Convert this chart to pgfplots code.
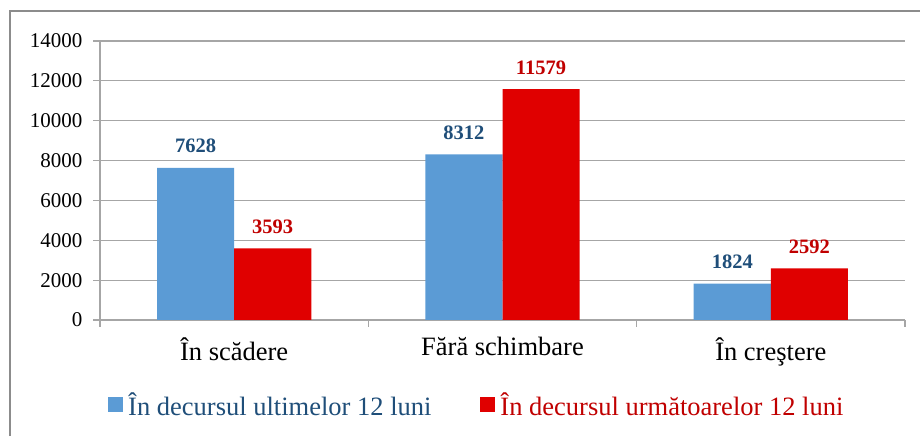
\documentclass[border=0pt]{standalone}
\usepackage{pgfplots}
\pgfplotsset{compat=1.18}
\usepackage{fontspec}
\setmainfont{Liberation Serif}
\newfontfamily\tnr{Liberation Serif}
\definecolor{barblue}{HTML}{5B9BD5}
\definecolor{barred}{HTML}{E00000}
\definecolor{lblblue}{HTML}{1F4E79}
\definecolor{lblred}{HTML}{C00000}
\definecolor{gridgray}{HTML}{A6A6A6}
\definecolor{framegray}{HTML}{8C8C8C}
\begin{document}
\begin{tikzpicture}[x=1pt,y=1pt]
\useasboundingbox (0,0) rectangle (920,436);
\draw[framegray,line width=1.5pt] (10,0) -- (10,425) -- (921,425);
\begin{axis}[
  at={(100pt,116pt)}, anchor=south west,
  scale only axis, width=805pt, height=279pt,
  ybar=0pt, bar width=0.2873,
  xmin=-0.5, xmax=2.5, ymin=0, ymax=14000,
  xtick={0,1,2},
  xticklabels={În scădere, Fără schimbare, În creştere},
  minor xtick={-0.5,0.5,1.5,2.5},
  ytick={0,2000,...,14000},
  scaled y ticks=false,
  /pgf/number format/.cd, 1000 sep={}, assume math mode=true, /pgfplots/.cd,
  yticklabel={\tnr\pgfmathprintnumber{\tick}},
  axis x line*=bottom, axis y line*=left,
  axis line style={gridgray, line width=1.2pt},
  ymajorgrids, grid style={gridgray, line width=1.2pt},
  tick align=outside,
  major tick length=7pt, minor tick length=7pt,
  xtick style={draw=none},
  minor x tick style={draw=gridgray, line width=1.2pt},
  ytick style={gridgray, line width=1.2pt},
  yticklabel style={font=\tnr\fontsize{21}{24}\selectfont, xshift=-7pt},
  xticklabel style={font=\tnr\fontsize{26.5}{30}\selectfont, yshift=-7pt},
  nodes near coords={\tnr\bfseries\pgfmathprintnumber{\pgfplotspointmeta}},
  nodes near coords style={font=\tnr\fontsize{20.5}{24}\selectfont\bfseries, inner sep=0pt, anchor=base, yshift=15pt},
  legend columns=2,
  legend style={at={(rel axis cs:0.01,-0.305)}, anchor=west, draw=none, fill=none,
    font=\tnr\fontsize{26.5}{30}\selectfont, inner sep=0pt,
    /tikz/every even column/.append style={column sep=47pt}},
  legend image code/.code={\fill[#1] (0pt,-7pt) rectangle (15pt,8pt);},
  clip=false,
]
\addplot[fill=barblue, draw=none, nodes near coords style={text=lblblue}] coordinates {(0,7628) (1,8312) (2,1824)};
\addlegendentry{\hspace{3pt}\textcolor{lblblue}{\tnr În decursul ultimelor 12 luni}}
\addplot[fill=barred, draw=none, nodes near coords style={text=lblred}] coordinates {(0,3593) (1,11579) (2,2592)};
\addlegendentry{\hspace{3pt}\textcolor{lblred}{\tnr În decursul următoarelor 12 luni}}
\end{axis}
\end{tikzpicture}
\end{document}
